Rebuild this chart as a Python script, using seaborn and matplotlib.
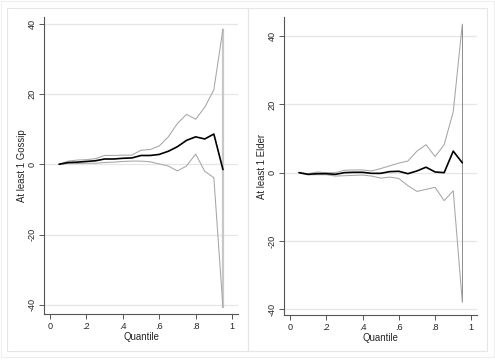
import matplotlib
matplotlib.use("Agg")
import matplotlib.pyplot as plt
import seaborn as sns
import pandas as pd
from matplotlib.patches import Rectangle

# quantiles 0.05 .. 0.95
quantile = [0.05, 0.10, 0.15, 0.20, 0.25, 0.30, 0.35, 0.40, 0.45, 0.50,
            0.55, 0.60, 0.65, 0.70, 0.75, 0.80, 0.85, 0.90, 0.95]

# panel 1: At least 1 Gossip
gossip_coef = [0.0, 0.5, 0.6, 0.8, 1.0, 1.5, 1.5, 1.7, 1.8, 2.5,
               2.5, 2.8, 3.7, 5.0, 6.8, 7.8, 7.2, 8.6, -1.5]
gossip_hi = [0.0, 0.9, 1.2, 1.3, 1.6, 2.5, 2.5, 2.6, 2.6, 4.0,
             4.2, 5.2, 7.8, 11.6, 14.2, 12.8, 16.2, 21.2, 38.5]
gossip_lo = [0.0, 0.2, 0.2, 0.3, 0.3, 0.5, 0.6, 0.8, 0.9, 0.9,
             0.7, 0.1, -0.5, -1.9, -0.5, 2.9, -2.0, -3.8, -40.8]

# panel 2: At least 1 Elder
elder_coef = [0.0, -0.5, -0.3, -0.3, -0.5, 0.0, 0.1, 0.1, -0.2, -0.2,
              0.3, 0.4, -0.3, 0.5, 1.6, 0.2, 0.0, 6.3, 2.9]
elder_hi = [0.0, -0.3, 0.2, 0.0, 0.0, 0.7, 0.8, 0.8, 0.5, 1.2,
            2.0, 2.8, 3.4, 6.3, 8.2, 4.7, 8.2, 17.8, 43.5]
elder_lo = [0.0, -0.6, -0.6, -0.6, -1.0, -0.9, -0.8, -0.7, -1.0, -1.6,
            -1.3, -1.7, -3.8, -5.5, -4.9, -4.3, -8.2, -5.3, -37.9]

xticks = [0, 0.2, 0.4, 0.6, 0.8, 1.0]
xticklabels = ["0", ".2", ".4", ".6", ".8", "1"]
yticks = [-40, -20, 0, 20, 40]

sns.set_style("white")
plt.rcParams['font.family'] = ['Liberation Sans', 'DejaVu Sans']

fig = plt.figure(figsize=(4.95, 3.6), dpi=100)

# panel frames (graph combine look)
for x0, x1 in [(7, 248), (248, 487)]:
    fig.add_artist(Rectangle((x0 / 495, 1 - 351 / 360), (x1 - x0) / 495, 343 / 360,
                             transform=fig.transFigure, fill=False,
                             edgecolor="#e6e6e6", linewidth=0.8))
fig.add_artist(Rectangle((1 / 495, 1 - 357 / 360), 493 / 495, 356 / 360,
                         transform=fig.transFigure, fill=False,
                         edgecolor="#eeeeee", linewidth=0.8))

panels = [
    dict(pos=[44.3 / 495, 1 - 314 / 360, 193.4 / 495, 297 / 360],
         coef=gossip_coef, hi=gossip_hi, lo=gossip_lo, ylim=(-42.6, 41.9),
         ylabel="At least 1 Gossip", vcolor="#c8c8c8", vwidth=1.6),
    dict(pos=[284.3 / 495, 1 - 315 / 360, 192.7 / 495, 298 / 360],
         coef=elder_coef, hi=elder_hi, lo=elder_lo, ylim=(-41.7, 45.6),
         ylabel="At least 1 Elder", vcolor="#8c8c8c", vwidth=0.7),
]

for p in panels:
    ax = fig.add_axes(p["pos"])
    df = pd.DataFrame({"q": quantile, "coef": p["coef"], "hi": p["hi"], "lo": p["lo"]})
    for y in yticks:
        ax.axhline(y, color="#e6e6e6", linewidth=0.9, zorder=0)
    ax.vlines(df["q"].iloc[-1], df["lo"].iloc[-1], df["hi"].iloc[-1],
              color=p["vcolor"], linewidth=p["vwidth"], zorder=1)
    sns.lineplot(data=df, x="q", y="hi", color="#a6a6a6", linewidth=0.75, ax=ax)
    sns.lineplot(data=df, x="q", y="lo", color="#a6a6a6", linewidth=0.75, ax=ax)
    sns.lineplot(data=df, x="q", y="coef", color="black", linewidth=1.2, ax=ax)

    ax.set_xlim(-0.031, 1.031)
    ax.set_ylim(*p["ylim"])
    ax.set_xticks(xticks)
    ax.set_xticklabels(xticklabels)
    ax.set_yticks(yticks)
    ax.set_yticklabels([str(v) for v in yticks], rotation=90, va="center")
    ax.tick_params(axis="both", direction="out", length=3.5, width=0.7,
                   color="#555555", labelsize=6.6, pad=2, left=True, bottom=True)
    ax.set_xlabel("Quantile", fontsize=6.9, labelpad=1)
    ax.set_ylabel(p["ylabel"], fontsize=6.9, labelpad=0.5)
    for s in ["top", "right"]:
        ax.spines[s].set_visible(False)
    for s in ["left", "bottom"]:
        ax.spines[s].set_color("#555555")
        ax.spines[s].set_linewidth(0.8)
    ax.set_facecolor("white")

fig.savefig("out.png", dpi=100, facecolor="white")
